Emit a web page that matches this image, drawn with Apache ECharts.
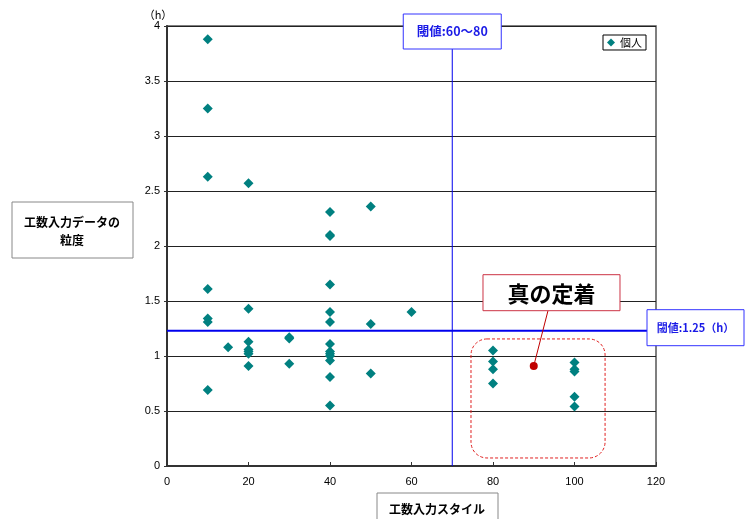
<!DOCTYPE html>
<html><head><meta charset="utf-8">
<script src="https://cdn.jsdelivr.net/npm/echarts@6/dist/echarts.min.js"></script>
<style>html,body{margin:0;padding:0;background:#fff}#c{width:750px;height:519px}</style>
</head><body><div id="c"></div>
<script>
// data
const seriesName = '個人';
const xs = [10,10,10,10,10,10,10, 15, 20,20,20,20,20,20,20, 30,30,30,
            40,40,40,40,40,40,40,40,40,40,40,40,40, 50,50,50, 60, 80,80,80,80, 100,100,100,100,100];
const ys = [3.88,3.25,2.63,1.61,1.34,1.31,0.69, 1.08, 2.57,1.43,1.13,1.06,1.04,1.02,0.91, 1.17,1.16,0.93,
            2.31,2.10,2.09,1.65,1.40,1.31,1.11,1.04,1.02,1.00,0.96,0.81,0.55, 2.36,1.29,0.84, 1.40,
            1.05,0.95,0.88,0.75, 0.94,0.88,0.86,0.63,0.54];
const markerPoint = [90, 0.91];
const thresholdX = 70;
const thresholdY = 1.23;
const thresholdXLabel = '閾値:60〜80';
const thresholdYLabel = '閾値:1.25（h）';
const calloutText = '真の定着';
const regionBox = [[74.6, 1.155], [107.5, 0.073]];
const xTitle = '工数入力スタイル';
const yTitleLines = ['工数入力データの', '粒度'];
const yUnit = '（h）';

const jp = '"Noto Sans CJK JP", sans-serif';
const lat = '"Liberation Sans", Arial, sans-serif';
const chart = echarts.init(document.getElementById('c'));
chart.setOption({
  animation: false,
  backgroundColor: '#fff',
  grid: {left: 167, right: 94, top: 26, bottom: 53, show: true, borderColor: '#555', borderWidth: 1.5},
  legend: {
    data: [{name: seriesName, icon: 'diamond'}], right: 104, top: 35, orient: 'vertical',
    borderColor: '#000', borderWidth: 1, padding: [2, 4, 2, 4], itemWidth: 8, itemHeight: 8, itemGap: 2,
    textStyle: {fontFamily: jp, fontSize: 11, color: '#000'}
  },
  xAxis: {
    type: 'value', min: 0, max: 120, interval: 20,
    axisLine: {show: true, lineStyle: {color: '#333', width: 2}},
    axisTick: {show: true, inside: true, length: 4, lineStyle: {color: '#333'}},
    splitLine: {show: false},
    axisLabel: {color: '#000', fontFamily: lat, fontSize: 11, margin: 10}
  },
  yAxis: {
    type: 'value', min: 0, max: 4, interval: 0.5,
    axisLine: {show: true, lineStyle: {color: '#333', width: 2}},
    axisTick: {show: true, length: 3, lineStyle: {color: '#333'}},
    splitLine: {show: true, lineStyle: {color: '#222', width: 1}},
    axisLabel: {color: '#000', fontFamily: lat, fontSize: 11, margin: 7}
  },
  series: [
    {name: seriesName, type: 'scatter', symbol: 'diamond', symbolSize: 10,
     itemStyle: {color: '#008080', opacity: 1}, data: xs.map((x, i) => [x, ys[i]]), z: 5},
    {name: 'marker', type: 'scatter', symbol: 'circle', symbolSize: 8,
     itemStyle: {color: '#c00000', opacity: 1}, data: [markerPoint], z: 6}
  ]
});

const px = p => chart.convertToPixel({gridIndex: 0}, p);
const [vx, vBottom] = px([thresholdX, 0]);
const [hLeft, hy] = px([0, thresholdY]);
const [, topY] = px([0, 4]);
const [rightX] = px([120, 0]);
const [mx, my] = px(markerPoint);
const r1 = px(regionBox[0]), r2 = px(regionBox[1]);

const vBox = {w: 98, h: 35, top: 14};
const hBox = {w: 97, h: 36, left: rightX - 9};
const cBox = {x: r1[0] + 12, y: hy - 56, w: 137, h: 36};

chart.setOption({
  graphic: [
    // vertical threshold
    {type: 'line', shape: {x1: vx, y1: vBox.top + vBox.h, x2: vx, y2: vBottom}, style: {stroke: '#0000ee', lineWidth: 1}, z: 10},
    {type: 'rect', shape: {x: vx - vBox.w / 2, y: vBox.top, width: vBox.w, height: vBox.h}, style: {fill: '#fff', stroke: '#3333ff', lineWidth: 1}, z: 11},
    {type: 'text', x: vx, y: vBox.top + vBox.h / 2, style: {text: thresholdXLabel, font: 'bold 12.5px ' + jp, fill: '#1a1ae6', align: 'center', verticalAlign: 'middle'}, z: 12},
    // horizontal threshold
    {type: 'line', shape: {x1: hLeft, y1: hy, x2: hBox.left, y2: hy}, style: {stroke: '#0000ee', lineWidth: 2}, z: 10},
    {type: 'rect', shape: {x: hBox.left, y: hy - 21, width: hBox.w, height: hBox.h}, style: {fill: '#fff', stroke: '#3333ff', lineWidth: 1}, z: 11},
    {type: 'text', x: hBox.left + hBox.w / 2, y: hy - 3, style: {text: thresholdYLabel, font: 'bold 11px ' + jp, fill: '#1a1ae6', align: 'center', verticalAlign: 'middle'}, z: 12},
    // dashed region
    {type: 'rect', shape: {x: r1[0], y: r1[1], width: r2[0] - r1[0], height: r2[1] - r1[1], r: 16}, style: {fill: 'none', stroke: '#e02020', lineWidth: 1, lineDash: [3, 2]}, z: 9},
    // callout
    {type: 'line', shape: {x1: cBox.x + 65, y1: cBox.y + cBox.h, x2: mx, y2: my}, style: {stroke: '#c00000', lineWidth: 1}, z: 10},
    {type: 'rect', shape: {x: cBox.x, y: cBox.y, width: cBox.w, height: cBox.h}, style: {fill: '#fff', stroke: '#cc3344', lineWidth: 1}, z: 11},
    {type: 'text', x: cBox.x + cBox.w / 2, y: cBox.y + cBox.h / 2 + 1, style: {text: calloutText, font: 'bold 22px ' + jp, fill: '#000', align: 'center', verticalAlign: 'middle'}, z: 12},
    // unit
    {type: 'text', x: 158, y: topY - 11, style: {text: yUnit, font: '11px ' + jp, fill: '#000', align: 'center', verticalAlign: 'middle'}},
    // y title
    {type: 'rect', shape: {x: 12, y: 202, width: 121, height: 56}, style: {fill: '#fff', stroke: '#888', lineWidth: 1}},
    {type: 'text', x: 72, y: 222, style: {text: yTitleLines[0], font: 'bold 12px ' + jp, fill: '#000', align: 'center', verticalAlign: 'middle'}},
    {type: 'text', x: 72, y: 240, style: {text: yTitleLines[1], font: 'bold 12px ' + jp, fill: '#000', align: 'center', verticalAlign: 'middle'}},
    // x title
    {type: 'rect', shape: {x: 377, y: 493, width: 121, height: 40}, style: {fill: '#fff', stroke: '#888', lineWidth: 1}},
    {type: 'text', x: 437, y: 509, style: {text: xTitle, font: 'bold 12px ' + jp, fill: '#000', align: 'center', verticalAlign: 'middle'}}
  ]
});
</script></body></html>
